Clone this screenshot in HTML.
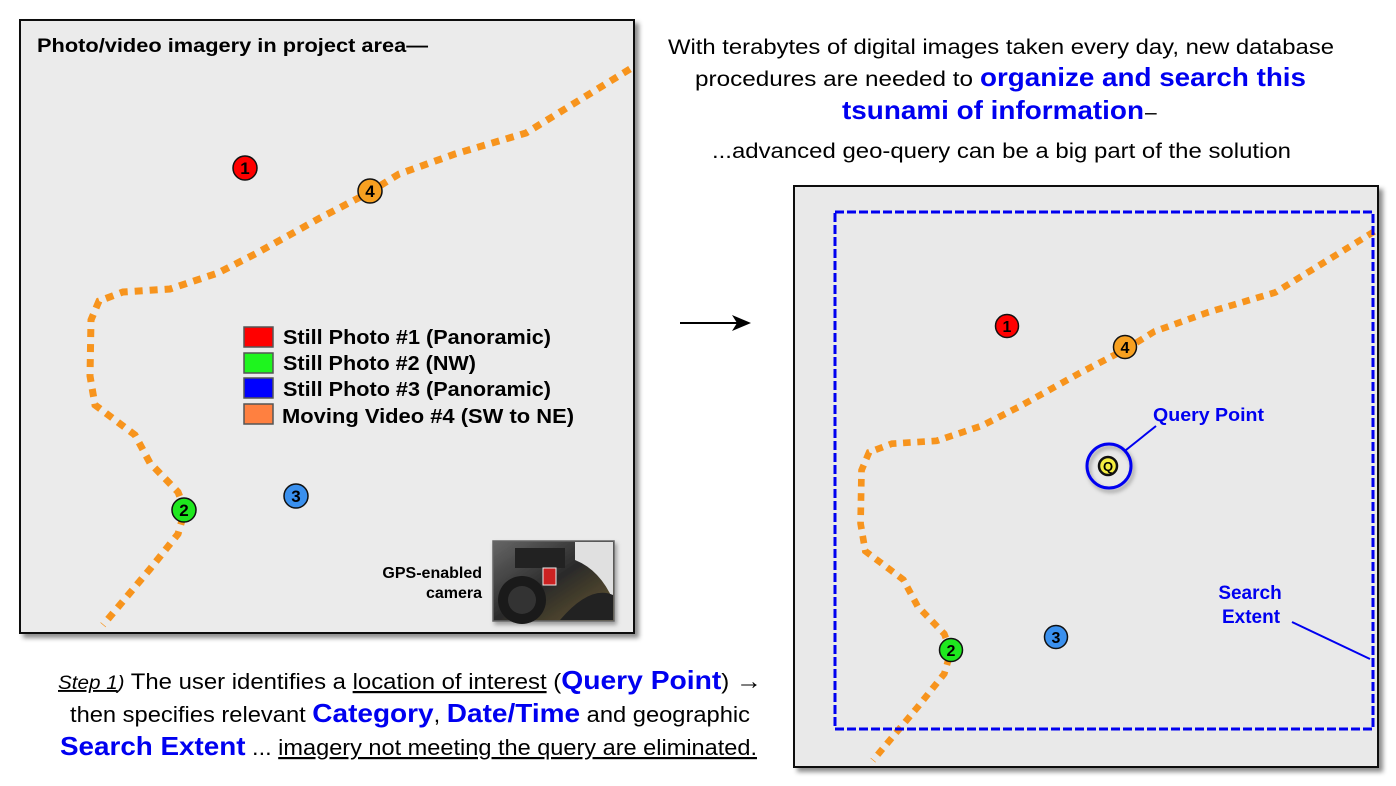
<!DOCTYPE html>
<html><head><meta charset="utf-8"><style>
html,body{margin:0;padding:0;background:#fff;width:1396px;height:786px;overflow:hidden}
svg{display:block;font-family:"Liberation Sans",Arial,sans-serif}
</style></head><body>
<svg width="1396" height="786" viewBox="0 0 1396 786" xmlns="http://www.w3.org/2000/svg">
<defs>
<filter id="sh" x="-5%" y="-5%" width="115%" height="115%"><feDropShadow dx="4" dy="4" stdDeviation="2.5" flood-color="#000" flood-opacity="0.45"/></filter>
<filter id="sh2" x="-30%" y="-30%" width="170%" height="170%"><feDropShadow dx="2" dy="3" stdDeviation="2" flood-color="#000" flood-opacity="0.35"/></filter>
<linearGradient id="cam" x1="0" y1="0" x2="1" y2="1"><stop offset="0" stop-color="#666"/><stop offset="0.5" stop-color="#2a2a2a"/><stop offset="1" stop-color="#6a5a30"/></linearGradient>
<g id="trail">
<path d="M630,69 L526,133 L455,154 L399,174 L370,192 L320,218 L257,253 L218,273 L170,289 L123,292 L99,301 L91,320 L90,376 L95,405 L135,435 L150,463 L178,492 L185,510 L178,534 L150,569 L103,625" fill="none" stroke="#f7941d" stroke-width="7" stroke-dasharray="8 7"/>
</g>
</defs>

<rect x="20" y="20" width="614" height="613" fill="#ebebeb" stroke="#111" stroke-width="2" filter="url(#sh)"/>
<text x="37" y="52" font-size="19" font-weight="bold" textLength="391" lengthAdjust="spacingAndGlyphs">Photo/video imagery in project area—</text>
<use href="#trail"/>
<g font-weight="bold" font-size="17" text-anchor="middle">
<circle cx="245" cy="168" r="12" fill="#f00" stroke="#111" stroke-width="1.5"/><text x="245" y="174">1</text>
<circle cx="370" cy="191" r="12" fill="#f7a020" stroke="#111" stroke-width="1.5"/><text x="370" y="197">4</text>
<circle cx="184" cy="510" r="12" fill="#1ee81e" stroke="#111" stroke-width="1.5"/><text x="184" y="516">2</text>
<circle cx="296" cy="496" r="12" fill="#3a90ee" stroke="#111" stroke-width="1.5"/><text x="296" y="502">3</text>
</g>
<g stroke="#555" stroke-width="1.5">
<rect x="244" y="327" width="29" height="20" fill="#f00"/>
<rect x="244" y="353" width="29" height="20" fill="#1ef51e"/>
<rect x="244" y="378" width="29" height="20" fill="#00f"/>
<rect x="244" y="404" width="29" height="20" fill="#ff8040"/>
</g>
<g font-size="20" font-weight="bold">
<text x="283" y="344" textLength="268" lengthAdjust="spacingAndGlyphs">Still Photo #1 (Panoramic)</text>
<text x="283" y="370" textLength="193" lengthAdjust="spacingAndGlyphs">Still Photo #2 (NW)</text>
<text x="283" y="396" textLength="268" lengthAdjust="spacingAndGlyphs">Still Photo #3 (Panoramic)</text>
<text x="282" y="423" textLength="292" lengthAdjust="spacingAndGlyphs">Moving Video #4 (SW to NE)</text>
</g>
<g font-size="16" font-weight="bold" text-anchor="end">
<text x="482" y="578">GPS-enabled</text>
<text x="482" y="598">camera</text>
</g>
<rect x="493" y="541" width="121" height="80" fill="url(#cam)" stroke="#666" stroke-width="1.5" filter="url(#sh2)"/>
<path d="M575,542 L613,542 L613,600 Q600,570 575,560 Z" fill="#e0e0e0"/>
<rect x="515" y="548" width="50" height="20" fill="#222"/>
<circle cx="522" cy="600" r="24" fill="#1a1a1a"/>
<circle cx="522" cy="600" r="14" fill="#333"/>
<path d="M560,620 Q590,585 613,595 L613,620 Z" fill="#222"/>
<rect x="543" y="568" width="13" height="17" fill="#c22" stroke="#eee"/>

<line x1="680" y1="323" x2="740" y2="323" stroke="#000" stroke-width="2"/>
<polygon points="732,315 751,323 732,331 737,323" fill="#000"/>

<g font-size="21">
<text x="668" y="54" textLength="666" lengthAdjust="spacingAndGlyphs">With terabytes of digital images taken every day, new database</text>
<text x="695" y="86" textLength="278" lengthAdjust="spacingAndGlyphs">procedures are needed  to</text>
<text x="980" y="86" font-size="26" font-weight="bold" fill="#0000f0" textLength="326" lengthAdjust="spacingAndGlyphs">organize and search this</text>
<text x="842" y="119" font-size="26" font-weight="bold" fill="#0000f0" textLength="302" lengthAdjust="spacingAndGlyphs">tsunami of information</text>
<text x="1145" y="119">–</text>
<text x="712" y="158" textLength="579" lengthAdjust="spacingAndGlyphs">...advanced geo-query can be a big part of the solution</text>
</g>

<rect x="794" y="186" width="584" height="581" fill="#e9e9e9" stroke="#111" stroke-width="2" filter="url(#sh)"/>
<g transform="translate(794,185) scale(0.951) translate(-20,-20)"><use href="#trail"/></g>
<rect x="835" y="212" width="538" height="517" fill="none" stroke="#0000f0" stroke-width="3" stroke-dasharray="9 3"/>
<g font-weight="bold" font-size="16" text-anchor="middle">
<circle cx="1007" cy="326" r="11.5" fill="#f00" stroke="#111" stroke-width="1.5"/><text x="1007" y="332">1</text>
<circle cx="1125" cy="347" r="11.5" fill="#f7a020" stroke="#111" stroke-width="1.5"/><text x="1125" y="353">4</text>
<circle cx="951" cy="650" r="11.5" fill="#1ee81e" stroke="#111" stroke-width="1.5"/><text x="951" y="656">2</text>
<circle cx="1056" cy="637" r="11.5" fill="#3a90ee" stroke="#111" stroke-width="1.5"/><text x="1056" y="643">3</text>
</g>
<circle cx="1109" cy="466" r="22" fill="none" stroke="#0000f0" stroke-width="3" filter="url(#sh2)"/>
<circle cx="1108" cy="466" r="9" fill="#f5ee40" stroke="#111" stroke-width="2.5"/>
<text x="1108" y="471" font-size="13" font-weight="bold" text-anchor="middle">Q</text>
<line x1="1126" y1="450" x2="1156" y2="426" stroke="#0000f0" stroke-width="2"/>
<text x="1153" y="421" font-size="18" font-weight="bold" fill="#0000f0" textLength="111" lengthAdjust="spacingAndGlyphs">Query Point</text>
<g font-size="19" font-weight="bold" fill="#0000f0" text-anchor="middle">
<text x="1250" y="599">Search</text>
<text x="1251" y="623">Extent</text>
</g>
<line x1="1292" y1="622" x2="1370" y2="659" stroke="#0000f0" stroke-width="2"/>

<g font-size="22">
<text x="58" y="689" textLength="704" lengthAdjust="spacingAndGlyphs"><tspan font-style="italic" font-size="19" text-decoration="underline">Step 1</tspan><tspan font-style="italic" font-size="19">)</tspan> The user identifies a <tspan text-decoration="underline">location of interest</tspan> (<tspan fill="#0000f0" font-weight="bold" font-size="26">Query Point</tspan>) <tspan font-size="24">→</tspan></text>
<text x="70" y="722" textLength="680" lengthAdjust="spacingAndGlyphs">then specifies relevant <tspan fill="#0000f0" font-weight="bold" font-size="26">Category</tspan>, <tspan fill="#0000f0" font-weight="bold" font-size="26">Date/Time</tspan> and geographic</text>
<text x="60" y="755" textLength="697" lengthAdjust="spacingAndGlyphs"><tspan fill="#0000f0" font-weight="bold" font-size="26">Search Extent</tspan> ... <tspan text-decoration="underline">imagery not meeting the query are eliminated.</tspan></text>
</g>
</svg>
</body></html>
